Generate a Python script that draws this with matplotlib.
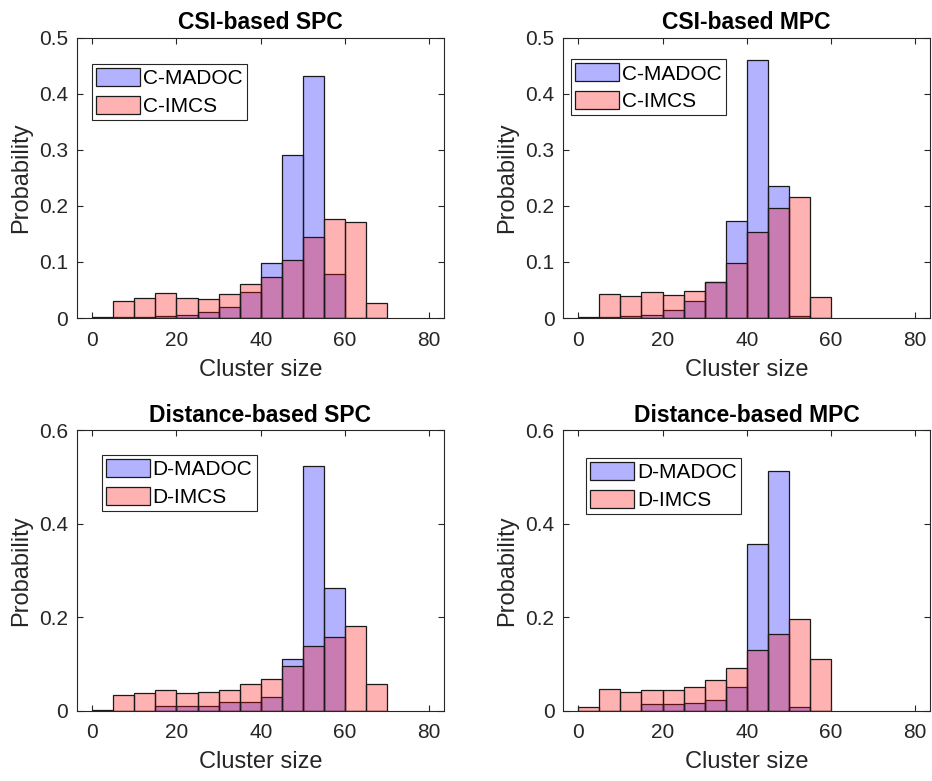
import numpy as np
import matplotlib.pyplot as plt
from matplotlib.ticker import FuncFormatter

plt.rcParams['font.family'] = ['Liberation Sans', 'DejaVu Sans']

BIN_WIDTH = 5

# probability per bin (bins start at 0, width 5)
csi_spc_madoc = [0.002, 0.001, 0.002, 0.003, 0.006, 0.010, 0.019, 0.047, 0.098, 0.291, 0.432, 0.079, 0.0, 0.0]
csi_spc_imcs = [0.0, 0.030, 0.035, 0.045, 0.036, 0.034, 0.043, 0.061, 0.074, 0.103, 0.145, 0.176, 0.171, 0.026]

csi_mpc_madoc = [0.002, 0.002, 0.003, 0.005, 0.014, 0.030, 0.065, 0.173, 0.460, 0.235, 0.004, 0.0]
csi_mpc_imcs = [0.0, 0.042, 0.040, 0.046, 0.041, 0.048, 0.064, 0.098, 0.153, 0.196, 0.216, 0.038]

dist_spc_madoc = [0.002, 0.0, 0.0, 0.010, 0.010, 0.010, 0.018, 0.018, 0.030, 0.111, 0.523, 0.262, 0.0, 0.0]
dist_spc_imcs = [0.0, 0.034, 0.037, 0.044, 0.037, 0.040, 0.044, 0.057, 0.068, 0.096, 0.138, 0.157, 0.182, 0.057]

dist_mpc_madoc = [0.0, 0.0, 0.0, 0.014, 0.014, 0.017, 0.023, 0.051, 0.357, 0.512, 0.008, 0.0]
dist_mpc_imcs = [0.007, 0.047, 0.040, 0.044, 0.044, 0.050, 0.065, 0.091, 0.130, 0.165, 0.197, 0.111]

panels = [
    ("CSI-based SPC", csi_spc_madoc, csi_spc_imcs, ["C-MADOC", "C-IMCS"], [0, 0.1, 0.2, 0.3, 0.4, 0.5]),
    ("CSI-based MPC", csi_mpc_madoc, csi_mpc_imcs, ["C-MADOC", "C-IMCS"], [0, 0.1, 0.2, 0.3, 0.4, 0.5]),
    ("Distance-based SPC", dist_spc_madoc, dist_spc_imcs, ["D-MADOC", "D-IMCS"], [0, 0.2, 0.4, 0.6]),
    ("Distance-based MPC", dist_mpc_madoc, dist_mpc_imcs, ["D-MADOC", "D-IMCS"], [0, 0.2, 0.4, 0.6]),
]

# axes boxes [left, bottom, width, height] in figure fraction
positions = [
    [0.0823, 0.5928, 0.3944, 0.3590],
    [0.6038, 0.5928, 0.3944, 0.3590],
    [0.0823, 0.0900, 0.3944, 0.3594],
    [0.6038, 0.0900, 0.3944, 0.3594],
]
legend_anchor = [(0.042, 0.906), (0.023, 0.923), (0.068, 0.911), (0.064, 0.900)]

dark = '#262626'
fig = plt.figure(figsize=(9.32, 7.81), dpi=100)

for (title, madoc, imcs, labels, yticks), pos, anchor in zip(panels, positions, legend_anchor):
    ax = fig.add_axes(pos)
    edges_m = np.arange(len(madoc)) * BIN_WIDTH
    edges_i = np.arange(len(imcs)) * BIN_WIDTH
    ax.bar(edges_m, madoc, width=BIN_WIDTH, align='edge',
           facecolor=(0, 0, 1, 0.3), edgecolor='#1a1a1a', linewidth=0.9, label=labels[0])
    ax.bar(edges_i, imcs, width=BIN_WIDTH, align='edge',
           facecolor=(1, 0, 0, 0.3), edgecolor='#1a1a1a', linewidth=0.9, label=labels[1])

    ax.set_xlim(-3.7, 83.6)
    ax.set_ylim(yticks[0], yticks[-1])
    ax.set_xticks([0, 20, 40, 60, 80])
    ax.set_yticks(yticks)
    ax.yaxis.set_major_formatter(FuncFormatter(lambda v, p: '0' if v == 0 else f'{v:g}'))
    ax.tick_params(direction='in', top=True, right=True, length=4, width=0.8,
                   colors=dark, labelsize=15)
    ax.tick_params(axis='x', pad=9)
    ax.tick_params(axis='y', pad=6)
    for s in ax.spines.values():
        s.set_color(dark)
        s.set_linewidth(0.8)

    ax.set_title(title, fontsize=16.5, fontweight='bold', pad=6)
    ax.set_xlabel("Cluster size", fontsize=17, color=dark)
    ax.set_ylabel("Probability", fontsize=17, color=dark)
    ax.yaxis.set_label_coords(-0.122, 0.5)
    ax.xaxis.set_label_coords(0.5, -0.145)

    leg = ax.legend(loc='upper left', bbox_to_anchor=anchor, borderaxespad=0,
                    fontsize=15, fancybox=False, framealpha=1, edgecolor=dark,
                    handlelength=2.1, handleheight=0.95, handletextpad=0.15,
                    labelspacing=0.35, borderpad=0.2)
    leg.get_frame().set_linewidth(0.8)

plt.savefig("out.png", dpi=100)
